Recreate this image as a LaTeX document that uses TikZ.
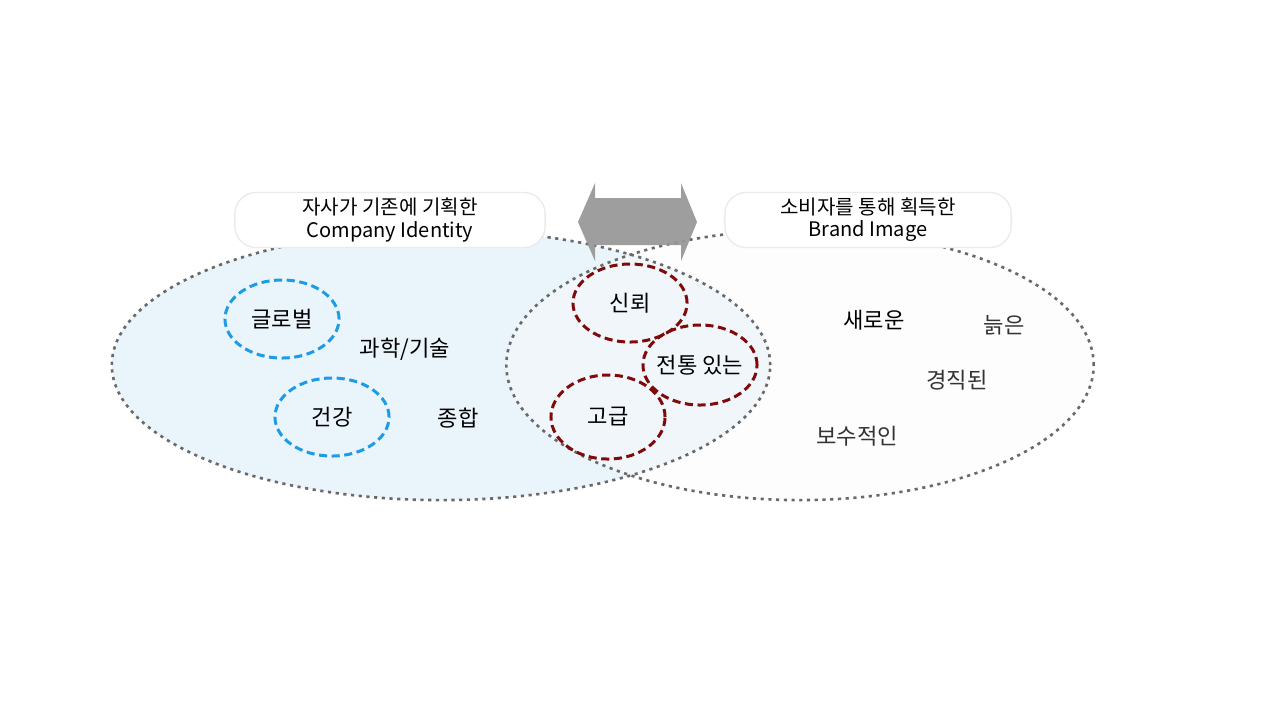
\documentclass[tikz,border=0pt]{standalone}
\usepackage{fontspec}
\setmainfont{Noto Sans CJK KR}
\usetikzlibrary{shapes.geometric}
\definecolor{cifill}{RGB}{234,244,251}
\definecolor{bifill}{RGB}{250,250,250}
\definecolor{rimgray}{RGB}{105,105,105}
\definecolor{ciblue}{RGB}{30,155,230}
\definecolor{bired}{RGB}{128,10,10}
\definecolor{arrgray}{RGB}{150,150,150}

\begin{document}
\begin{tikzpicture}[
    x=0.01cm, y=-0.01cm,
    line join=round,
    rim/.style={draw=rimgray, line width=0.75pt, dash pattern=on 0.9pt off 1.3pt},
    titlebox/.style={draw=black!8, fill=white, rounded corners=6pt, line width=0.4pt,
        minimum width=3.1cm, minimum height=0.55cm, inner sep=1pt, align=center,
        font=\fontsize{5.7}{6.3}\selectfont},
    word/.style={font=\fontsize{6.3}{7}\selectfont},
    blueoval/.style={ellipse, draw=ciblue, line width=0.85pt, inner sep=0pt,
        dash pattern=on 2.3pt off 1.3pt, minimum width=1.14cm, minimum height=0.78cm},
    redoval/.style={ellipse, draw=bired, line width=0.85pt, inner sep=0pt,
        dash pattern=on 2.3pt off 1.3pt, minimum width=1.14cm, minimum height=0.80cm},
]
\useasboundingbox (0,0) rectangle (1280,720);

% ── Two big sets ────────────────────────────────────────────────────────────
\node[ellipse, fill=cifill, minimum width=6.58cm, minimum height=2.70cm,
      inner sep=0pt] (ci) at (441,365) {};
\node[ellipse, fill=bifill, fill opacity=0.45, minimum width=5.87cm,
      minimum height=2.70cm, inner sep=0pt] (bi) at (800,365) {};
\node[ellipse, rim, minimum width=6.58cm, minimum height=2.70cm,
      inner sep=0pt] at (ci) {};
\node[ellipse, rim, minimum width=5.87cm, minimum height=2.70cm,
      inner sep=0pt] at (bi) {};

% ── Double arrow between the two titles ─────────────────────────────────────
\fill[arrgray, fill opacity=0.92]
    (578,222) -- (595,183) -- (595,198) -- (681,198) -- (681,183)
    -- (697,222) -- (681,261) -- (681,245) -- (595,245) -- (595,261) -- cycle;

% ── Titles ──────────────────────────────────────────────────────────────────
\node[titlebox] (cititle) at (390,220) {자사가 기존에 기획한\\Company Identity};
\node[titlebox, minimum width=2.86cm] (bititle) at (868,220)
    {소비자를 통해 획득한\\Brand Image};

% ── Company identity words ──────────────────────────────────────────────────
\node[blueoval, word] (global) at (282,319) {글로벌};
\node[blueoval, word] (health) at (332,417) {건강};
\node[word] (scitech) at (405,349) {과학/기술};
\node[word] (total) at (458,418) {종합};

% ── Shared words ────────────────────────────────────────────────────────────
\node[redoval, minimum height=0.78cm, word] (trust) at (630,303) {신뢰};
\node[redoval, word] (trad) at (700,365) {\makebox[0pt]{전통 있는}};
\node[redoval, minimum height=0.84cm, word] (premium) at (608,417) {고급};

% ── Brand image words ───────────────────────────────────────────────────────
\node[word] (new) at (874,320) {새로운};
\node[word, black!80] (old) at (1004,325) {늙은};
\node[word, black!80] (rigid) at (957,380) {경직된};
\node[word, black!80] (conserv) at (857,436) {보수적인};

\end{tikzpicture}
\end{document}
